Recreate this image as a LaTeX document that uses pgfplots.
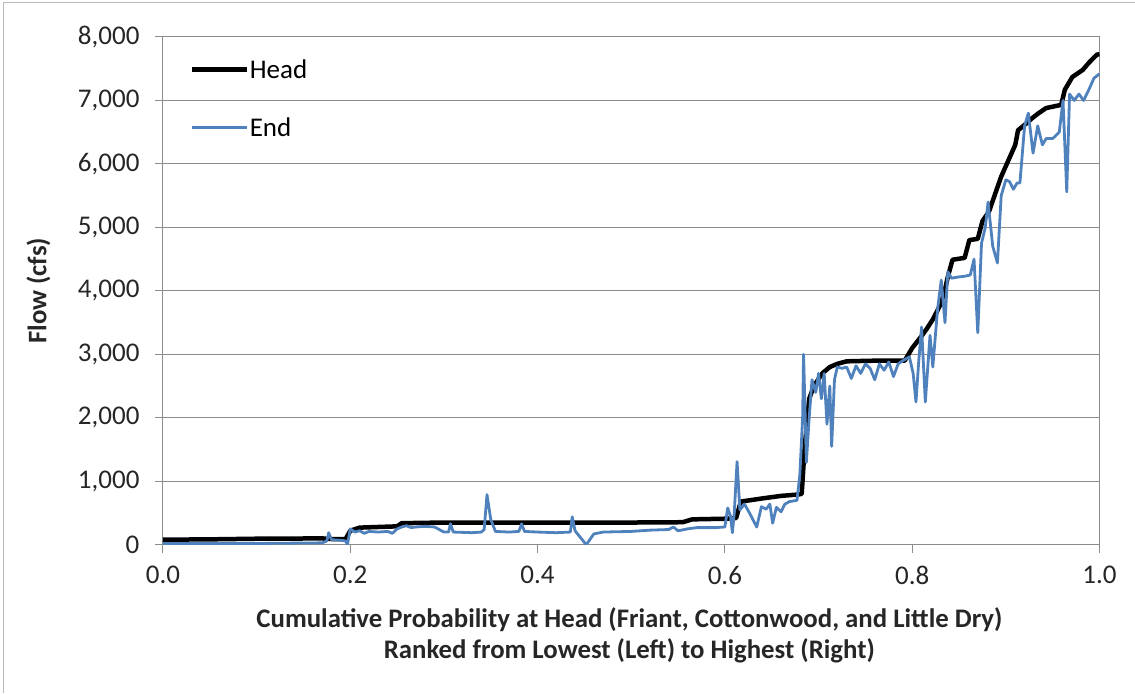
\documentclass[border=0pt]{standalone}
\usepackage{fontspec}
\setmainfont{Carlito}
\usepackage{pgfplots}
\pgfplotsset{compat=1.18}
\definecolor{endblue}{HTML}{4F81BD}
\definecolor{gridgray}{HTML}{8C8C8C}
\begin{document}
\begin{tikzpicture}[x=1bp,y=1bp]
\path (0,0) rectangle (1135,693);
\draw[gridgray!60, line width=1bp] (4,0) -- (4,690) -- (1135,690);
\begin{axis}[
  at={(163bp,148bp)}, anchor=south west,
  scale only axis, width=937bp, height=508bp,
  xmin=0, xmax=1, ymin=0, ymax=8000,
  xtick={0,0.2,0.4,0.6,0.8,1},
  ytick={0,1000,2000,3000,4000,5000,6000,7000,8000},
  ymajorgrids,
  grid style={gridgray, line width=1bp},
  axis line style={gridgray, line width=1bp},
  tick style={gridgray, line width=1bp},
  tick align=outside, major tick length=8bp,
  xtick pos=bottom, ytick pos=left,
  /pgf/number format/assume math mode=true,
  ticklabel style={font=\fontsize{27bp}{32bp}\selectfont, text=black!85},
  xticklabel={\pgfmathprintnumber[fixed,fixed zerofill,precision=1]{\tick}},
  yticklabel={\pgfmathprintnumber[fixed,precision=0,1000 sep={,}]{\tick}},
  yticklabel style={xshift=-12bp},
  xticklabel style={yshift=-10bp},
  xlabel={Cumulative Probability at Head (Friant, Cottonwood, and Little Dry)\\Ranked from Lowest (Left) to Highest (Right)},
  xlabel style={at={(axis description cs:0.498,-0.179)}, anchor=center, align=center, font=\bfseries\fontsize{26.8bp}{31bp}\selectfont, text=black!85},
  ylabel={Flow (cfs)},
  ylabel style={at={(axis description cs:-0.133,0.5)}, anchor=center, rotate=0, font=\bfseries\fontsize{26.8bp}{31bp}\selectfont, text=black!85},
  legend style={draw=none, fill=none, at={(axis description cs:0.028,0.958)}, anchor=north west,
    font=\fontsize{27bp}{32bp}\selectfont, row sep=36bp, inner sep=0pt,
    nodes={inner sep=1bp}},
  legend cell align=left,
  legend image code/.code={\draw[#1] (0bp,0bp) -- (55bp,0bp);},
]
\addplot[black, line width=4.5bp, line join=round] coordinates {
(0,80) (0.05,85) (0.10,95) (0.17,100) (0.18,90) (0.195,90) (0.20,220) (0.21,270)
(0.25,290) (0.255,340) (0.30,350) (0.40,350) (0.50,350) (0.555,355) (0.565,400)
(0.60,410) (0.612,420) (0.617,680) (0.64,730) (0.66,770) (0.677,790) (0.682,800)
(0.685,1500) (0.69,2300) (0.695,2500) (0.704,2700) (0.712,2800) (0.72,2850)
(0.73,2890) (0.76,2900) (0.792,2900) (0.80,3100) (0.808,3250) (0.815,3390)
(0.822,3550) (0.829,3750) (0.834,3950) (0.838,4220) (0.843,4490) (0.856,4520)
(0.861,4800) (0.87,4820) (0.875,5100) (0.882,5250) (0.89,5590) (0.895,5800)
(0.904,6100) (0.91,6300) (0.913,6530) (0.922,6640) (0.928,6720) (0.935,6800)
(0.943,6880) (0.959,6930) (0.963,7170) (0.971,7370) (0.982,7480) (0.989,7600)
(0.997,7720) (1.0,7730)
};
\addlegendentry{Head}
\addplot[endblue, line width=2.8bp, line join=round] coordinates {
(0,20) (0.05,20) (0.10,20) (0.17,30) (0.175,60) (0.177,190) (0.18,80) (0.19,70)
(0.195,60) (0.197,0) (0.20,250) (0.205,200) (0.21,220) (0.215,180) (0.22,210)
(0.23,200) (0.24,210) (0.245,180) (0.25,250) (0.255,280) (0.26,300) (0.265,270)
(0.27,280) (0.28,290) (0.29,280) (0.30,200) (0.305,200) (0.307,330) (0.31,200)
(0.33,190) (0.34,200) (0.343,240) (0.346,790) (0.35,400) (0.355,210) (0.37,200)
(0.38,210) (0.383,330) (0.386,210) (0.40,200) (0.42,190) (0.435,200) (0.437,440)
(0.44,220) (0.452,0) (0.46,170) (0.47,200) (0.50,210) (0.52,230) (0.54,240)
(0.545,280) (0.55,220) (0.56,250) (0.57,270) (0.59,270) (0.60,280) (0.603,580)
(0.606,450) (0.608,190) (0.61,500) (0.613,1310) (0.616,550) (0.621,640)
(0.627,480) (0.634,280) (0.639,600) (0.644,560) (0.648,640) (0.651,340)
(0.655,590) (0.66,520) (0.664,640) (0.669,680) (0.677,700) (0.68,1100)
(0.683,2000) (0.684,3000) (0.687,1300) (0.69,2000) (0.693,2600) (0.697,2400)
(0.70,2700) (0.703,2300) (0.706,2700) (0.709,1900) (0.712,2500) (0.714,1550)
(0.717,2600) (0.72,2800) (0.725,2780) (0.73,2800) (0.735,2620) (0.74,2820)
(0.745,2700) (0.75,2850) (0.755,2780) (0.76,2600) (0.765,2850) (0.77,2750)
(0.775,2880) (0.78,2650) (0.785,2850) (0.79,2900) (0.797,2960) (0.801,2700)
(0.804,2250) (0.807,2900) (0.81,3430) (0.814,2250) (0.819,3300) (0.822,2800)
(0.827,3700) (0.831,4170) (0.835,3500) (0.838,4300) (0.842,4200) (0.85,4220)
(0.856,4230) (0.862,4250) (0.866,4500) (0.87,3340) (0.874,4750) (0.878,5000)
(0.881,5400) (0.886,4700) (0.891,4440) (0.895,5500) (0.90,5750) (0.904,5720)
(0.908,5600) (0.912,5700) (0.915,5700) (0.92,6600) (0.924,6800) (0.929,6170)
(0.934,6600) (0.939,6300) (0.943,6400) (0.95,6400) (0.957,6500) (0.961,7000)
(0.965,5560) (0.968,7100) (0.973,7000) (0.978,7100) (0.983,7000) (0.988,7150)
(0.994,7350) (1.0,7420)
};
\addlegendentry{End}
\end{axis}
\end{tikzpicture}
\end{document}
